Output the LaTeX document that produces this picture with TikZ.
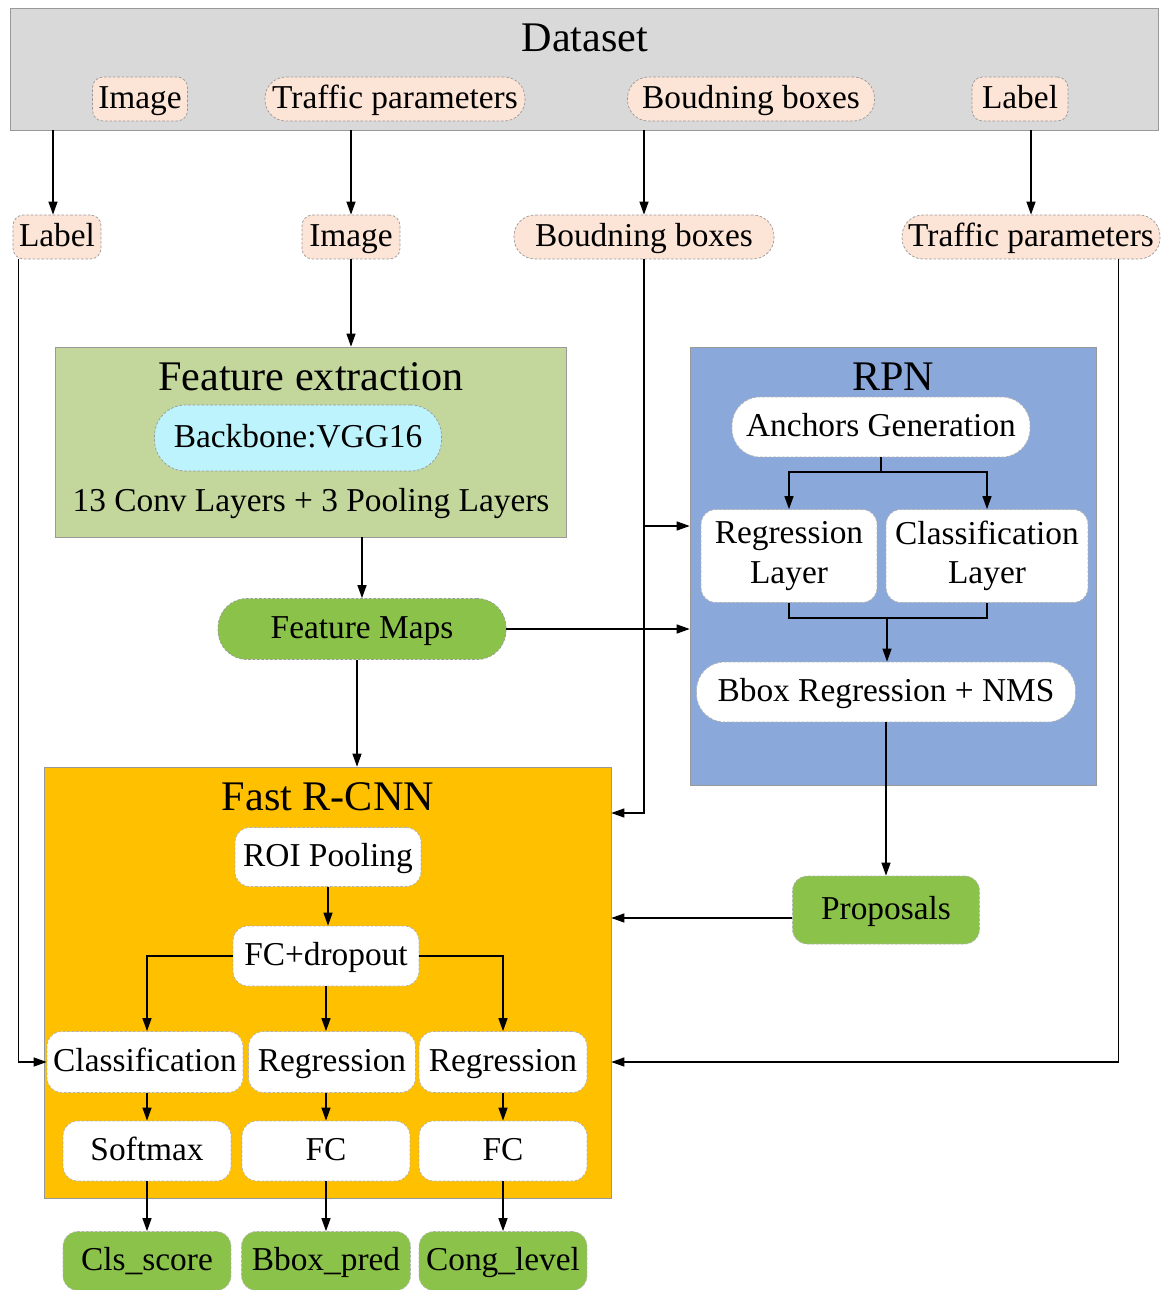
\documentclass[tikz,border=0pt]{standalone}
\usepackage{fontspec}
\setmainfont{Liberation Serif}
\usetikzlibrary{arrows.meta}

\definecolor{setgray}{HTML}{D9D9D9}
\definecolor{peach}{HTML}{FCE4D6}
\definecolor{olive}{HTML}{C3D69B}
\definecolor{skyc}{HTML}{BDF3FC}
\definecolor{leaf}{HTML}{8BC34A}
\definecolor{rpnblue}{HTML}{8AA8DA}
\definecolor{amber}{HTML}{FFC000}

\newcommand{\lbl}{\fontsize{19}{22.5}\selectfont}
\newcommand{\ttl}{\fontsize{24}{28}\selectfont}

\tikzset{
  panel/.style={draw=gray!80, inner sep=0pt},
  tag/.style={draw=gray!80, dash pattern=on 1.5pt off 1pt, line width=0.4pt, fill=peach,
    rounded corners=6pt, minimum height=0.88cm, inner sep=0pt, font=\lbl,
    text height=15pt, text depth=4pt},
  pill/.style={tag, rounded corners=0.42cm},
  cell/.style={draw=gray!60, dash pattern=on 1.5pt off 1pt, line width=0.4pt, fill=white,
    rounded corners=0.3cm, inner sep=0pt, font=\lbl,
    text height=15pt, text depth=4pt},
  outbox/.style={cell, fill=leaf},
  arrow/.style={-{Triangle[length=0.26cm,width=0.18cm]}, line width=0.7pt},
  wire/.style={line width=0.7pt}
}

\begin{document}
\begin{tikzpicture}[x=0.02cm, y=-0.02cm]
  \useasboundingbox (0,0) rectangle (1161,1290);

  % Dataset
  \node[panel, fill=setgray, minimum width=22.96cm, minimum height=2.44cm] (dataset) at (584,69) {};
  \node[font=\ttl] (settitle) at (585,38) {Dataset};
  \node[tag, minimum width=1.9cm]   (img1)  at (140,99)  {Image};
  \node[pill, minimum width=5.2cm]  (traf1) at (395,99)  {Traffic parameters};
  \node[pill, minimum width=4.94cm] (bbox1) at (751,99)  {Boudning boxes};
  \node[tag, minimum width=1.92cm]  (lab1)  at (1020,99) {Label};

  % Inputs
  \node[tag, minimum width=1.76cm]  (lab2)  at (57,237)   {Label};
  \node[tag, minimum width=1.96cm]  (img2)  at (351,237)  {Image};
  \node[pill, minimum width=5.2cm]  (bbox2) at (644,237)  {Boudning boxes};
  \node[pill, minimum width=5.16cm] (traf2) at (1031,237) {Traffic parameters};

  % Feature extraction
  \node[panel, fill=olive, minimum width=10.22cm, minimum height=3.8cm] (feat) at (310.5,442) {};
  \node[font=\ttl] (feattitle) at (311,377) {Feature extraction};
  \node[pill, fill=skyc, minimum width=5.74cm, minimum height=1.32cm, rounded corners=0.62cm] (vgg) at (298,438) {Backbone:VGG16};
  \node[font=\lbl] (convs) at (311,504) {13 Conv Layers + 3 Pooling Layers};
  \node[pill, fill=leaf, minimum width=5.76cm, minimum height=1.22cm, rounded corners=0.58cm] (fmaps) at (362,629) {Feature Maps};

  % RPN
  \node[panel, fill=rpnblue, minimum width=8.12cm, minimum height=8.76cm] (rpn) at (893,566) {};
  \node[font=\ttl] (rpntitle) at (893,377) {RPN};
  \node[cell, minimum width=5.96cm, minimum height=1.2cm, rounded corners=0.56cm] (anchors) at (881,427) {Anchors Generation};
  \node[cell, text height=, text depth=, align=center, minimum width=3.52cm, minimum height=1.86cm] (regl) at (789,556) {Regression\\Layer};
  \node[cell, text height=, text depth=, align=center, minimum width=4.04cm, minimum height=1.86cm] (clsl) at (987,556) {Classification\\Layer};
  \node[cell, minimum width=7.58cm, minimum height=1.2cm, rounded corners=0.56cm] (nms) at (886,692) {Bbox Regression + NMS};
  \node[outbox, minimum width=3.74cm, minimum height=1.36cm] (props) at (886,910) {Proposals};

  % Fast R-CNN
  \node[panel, fill=amber, minimum width=11.34cm, minimum height=8.62cm] (fast) at (327.5,982.5) {};
  \node[font=\ttl] (fasttitle) at (328,797) {Fast R-CNN};
  \node[cell, minimum width=3.72cm, minimum height=1.18cm] (roi)   at (328,857)  {ROI Pooling};
  \node[cell, minimum width=3.72cm, minimum height=1.2cm]  (drop)  at (326,956)  {FC+dropout};
  \node[cell, minimum width=3.92cm, minimum height=1.22cm] (clsh)  at (145,1062) {Classification};
  \node[cell, minimum width=3.34cm, minimum height=1.22cm] (regh)  at (332,1062) {Regression};
  \node[cell, minimum width=3.36cm, minimum height=1.22cm] (congh) at (503,1062) {Regression};
  \node[cell, minimum width=3.36cm, minimum height=1.2cm]  (soft)  at (147,1151) {Softmax};
  \node[cell, minimum width=3.36cm, minimum height=1.2cm]  (fcb)   at (326,1151) {FC};
  \node[cell, minimum width=3.36cm, minimum height=1.2cm]  (fcc)   at (503,1151) {FC};

  % Outputs
  \node[outbox, minimum width=3.36cm, minimum height=1.18cm] (clsout) at (147,1261) {Cls\_score};
  \node[outbox, minimum width=3.38cm, minimum height=1.18cm] (bpred)  at (326,1261) {Bbox\_pred};
  \node[outbox, minimum width=3.36cm, minimum height=1.18cm] (cong)   at (503,1261) {Cong\_level};

  % Dataset to inputs
  \draw[arrow] ([xshift=-0.08cm]lab2.north |- dataset.south) -- ([xshift=-0.08cm]lab2.north);
  \draw[arrow] (img2.north |- dataset.south) -- (img2.north);
  \draw[arrow] (bbox2.north |- dataset.south) -- (bbox2.north);
  \draw[arrow] (traf2.north |- dataset.south) -- (traf2.north);

  % Backbone path
  \draw[arrow] (img2.south) -- (img2.south |- feat.north);
  \draw[arrow] (fmaps.north |- feat.south) -- (fmaps.north);
  \draw[arrow] (fmaps.east) -- (fmaps.east -| rpn.west);
  \draw[arrow] ([xshift=-0.1cm]fmaps.south) -- ([xshift=-0.1cm]fmaps.south |- fast.north);

  % Bounding boxes
  \coordinate (bbsplit) at (644,526);
  \coordinate (bbturn) at (644,813);
  \draw[arrow] (bbox2.south) -- (bbsplit) -- (bbsplit -| rpn.west);
  \draw[arrow] (bbsplit) -- (bbturn) -- (bbturn -| fast.east);

  % Traffic parameters and label
  \draw[arrow] ([xshift=-0.84cm]traf2.south east) |- (fast.east |- congh.east);
  \draw[arrow] ([xshift=0.12cm]lab2.south west) |- (clsh.west);

  % Inside RPN
  \coordinate (asplit) at (881,472);
  \coordinate (rjoin) at (887,618);
  \draw[wire] (anchors.south) -- (asplit);
  \draw[arrow] (asplit) -| (regl.north);
  \draw[arrow] (asplit) -| (clsl.north);
  \draw[wire] (regl.south) |- (rjoin) -| (clsl.south);
  \draw[arrow] (rjoin) -- (rjoin |- nms.north);
  \draw[arrow] (nms.south) -- (nms.south |- props.north);
  \draw[arrow] ([yshift=-0.16cm]props.west) -- ([yshift=-0.16cm]props.west -| fast.east);

  % Inside Fast R-CNN
  \draw[arrow] (roi.south) -- (roi.south |- drop.north);
  \draw[arrow] (drop.west) -| (soft.north |- clsh.north);
  \draw[arrow] (drop.south) -- (drop.south |- regh.north);
  \draw[arrow] (drop.east) -| (congh.north);
  \draw[arrow] (soft.north |- clsh.south) -- (soft.north);
  \draw[arrow] (fcb.north |- regh.south) -- (fcb.north);
  \draw[arrow] (fcc.north |- congh.south) -- (fcc.north);
  \draw[arrow] (soft.south) -- (clsout.north);
  \draw[arrow] (fcb.south) -- (bpred.north);
  \draw[arrow] (fcc.south) -- (cong.north);

\end{tikzpicture}
\end{document}
